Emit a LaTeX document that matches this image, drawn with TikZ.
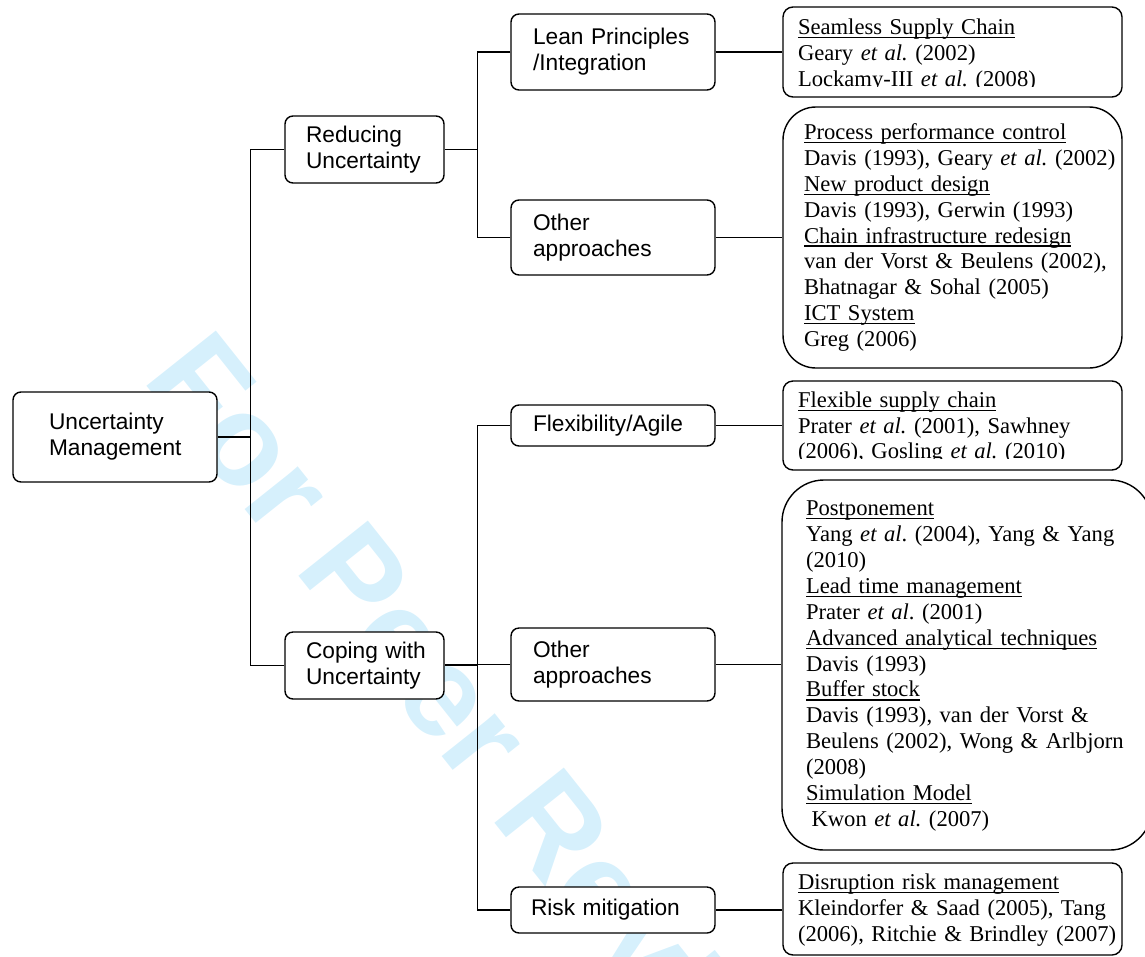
\documentclass[tikz,border=0pt]{standalone}
\usepackage{fontspec}
\setmainfont{Liberation Serif}
\newfontfamily\arialf{Liberation Sans}
\definecolor{wm}{RGB}{214,240,252}
\newsavebox\ulbox
\newcommand\myul[1]{\leavevmode\sbox\ulbox{#1}\rlap{\rule[-3.6pt]{\wd\ulbox}{1.2pt}}\usebox\ulbox}
\newcommand\toppad[1]{\rule{0pt}{#1}}
\hyphenpenalty=10000
\exhyphenpenalty=10000
\frenchspacing
\tikzset{
  sbox/.style={draw, line width=1.4pt, rounded corners=8pt, fill=white,
    font=\arialf\fontsize{22.7}{25.8}\selectfont, align=left, inner ysep=0pt},
  rbox/.style={draw, line width=1.4pt, rounded corners=10pt, fill=white,
    font=\fontsize{22.6}{25.9}\selectfont, align=left, inner ysep=0pt},
  conn/.style={line width=1.3pt},
  wmark/.style={text=wm, font=\arialf\bfseries\fontsize{129}{129}\selectfont,
    rotate=-51.5, anchor=base, inner sep=0pt}
}
\begin{document}
\begin{tikzpicture}[x=1pt,y=-1pt]
\useasboundingbox (0,0) rectangle (1145,956);
\node[wmark] (wmk) at (454,772) {For Peer Review};

% left level
\node[sbox, minimum width=204pt, minimum height=90pt, inner xsep=36pt, text width=132pt] (um) at (115,437) {Uncertainty\\\mbox{Management}};
\node[sbox, minimum width=159pt, minimum height=67pt, inner xsep=21pt, text width=117pt] (red) at (364.5,149.5) {Reducing\\\mbox{Uncertainty}};
\node[sbox, minimum width=159pt, minimum height=67pt, inner xsep=21pt, text width=117pt] (cop) at (364.5,665.5) {\mbox{Coping with}\\\mbox{Uncertainty}};
\node[sbox, minimum width=204pt, minimum height=76pt, inner xsep=22pt, text width=160pt] (lean) at (613,52) {Lean Principles\\/Integration};
\node[sbox, minimum width=204pt, minimum height=75pt, inner xsep=22pt, text width=160pt] (oth1) at (613,237.5) {Other\\approaches};
\node[sbox, minimum width=204pt, minimum height=41pt, inner xsep=22pt, text width=160pt] (flex) at (613,425.5) {Flexibility/Agile};
\node[sbox, minimum width=204pt, minimum height=73pt, inner xsep=22pt, text width=160pt] (oth2) at (613,664.5) {Other\\approaches};
\node[sbox, minimum width=204pt, minimum height=46pt, inner xsep=20pt, text width=164pt] (risk) at (613,910) {Risk mitigation};

% right level
\node[rbox, minimum width=339pt, minimum height=90pt, inner xsep=15pt, text width=309pt] (ss) at (952.5,52)
 {\toppad{21.3pt}\myul{Seamless Supply Chain}\\Geary \textit{et al.} (2002)\\Lockamy-III \textit{et al.} (2008)};
\node[rbox, rounded corners=33pt, minimum width=339pt, minimum height=261pt, inner xsep=21pt, text width=297pt] (ppc) at (952.5,237.5)
 {\toppad{15.7pt}\myul{Process performance control}\\\mbox{Davis (1993), Geary \textit{et al.} (2002)}\\\myul{New product design}\\Davis (1993), Gerwin (1993)\\\myul{Chain infrastructure redesign}\\\mbox{van der Vorst \& Beulens (2002),}\\Bhatnagar \& Sohal (2005)\\\myul{ICT System}\\Greg (2006)};
\node[rbox, font=\fontsize{22.6}{25.3}\selectfont, minimum width=339pt, minimum height=89pt, inner xsep=15pt, text width=309pt] (fsc) at (952.5,425.5)
 {\toppad{19.9pt}\myul{Flexible supply chain}\\Prater \textit{et al.} (2001), Sawhney\\(2006), Gosling \textit{et al.} (2010)};
\node[rbox, rounded corners=42pt, minimum width=370pt, minimum height=370pt, inner xsep=24pt, text width=322pt] (pp) at (967,665)
 {\toppad{16.8pt}\myul{Postponement}\\Yang \textit{et al}. (2004), Yang \& Yang\\(2010)\\\myul{Lead time management}\\Prater \textit{et al}. (2001)\\\myul{Advanced analytical techniques}\\Davis (1993)\\\myul{Buffer stock}\\Davis (1993), van der Vorst \&\\\mbox{Beulens (2002), Wong \& Arlbjorn}\\(2008)\\\myul{Simulation Model}\\\hspace*{5.6pt}Kwon \textit{et al.} (2007)};
\node[rbox, minimum width=339pt, minimum height=92pt, inner xsep=15pt, text width=309pt] (drm) at (952.5,909)
 {\toppad{17.3pt}\myul{Disruption risk management}\\\mbox{Kleindorfer \& Saad (2005), Tang}\\\mbox{(2006), Ritchie \& Brindley (2007)}};

% the text frames of two boxes cut their last line at its baseline
\fill[white] (796,86.9) rectangle (1110,95.4);
\fill[white] (796,459.1) rectangle (1110,468.4);

% connectors
\draw[conn] (red.west) -- ++(-34,0) |- (um.east);
\draw[conn] (cop.west) -- ++(-34,0) |- (um.east);
\draw[conn] (lean.west) -- ++(-33,0) |- (red.east);
\draw[conn] (oth1.west) -- ++(-33,0) |- (red.east);
\draw[conn] (flex.west) -- ++(-33,0) |- (cop.east);
\draw[conn] (risk.west) -- ++(-33,0) |- (cop.east);
\draw[conn] (oth2.west) -- (oth2.west -| cop.east);
\draw[conn] (lean.east) -- (lean.east -| ss.west);
\draw[conn] (oth1.east) -- (oth1.east -| ppc.west);
\draw[conn] (flex.east) -- (flex.east -| fsc.west);
\draw[conn] (oth2.east) -- (oth2.east -| pp.west);
\draw[conn] (risk.east) -- (risk.east -| drm.west);
\end{tikzpicture}
\end{document}
